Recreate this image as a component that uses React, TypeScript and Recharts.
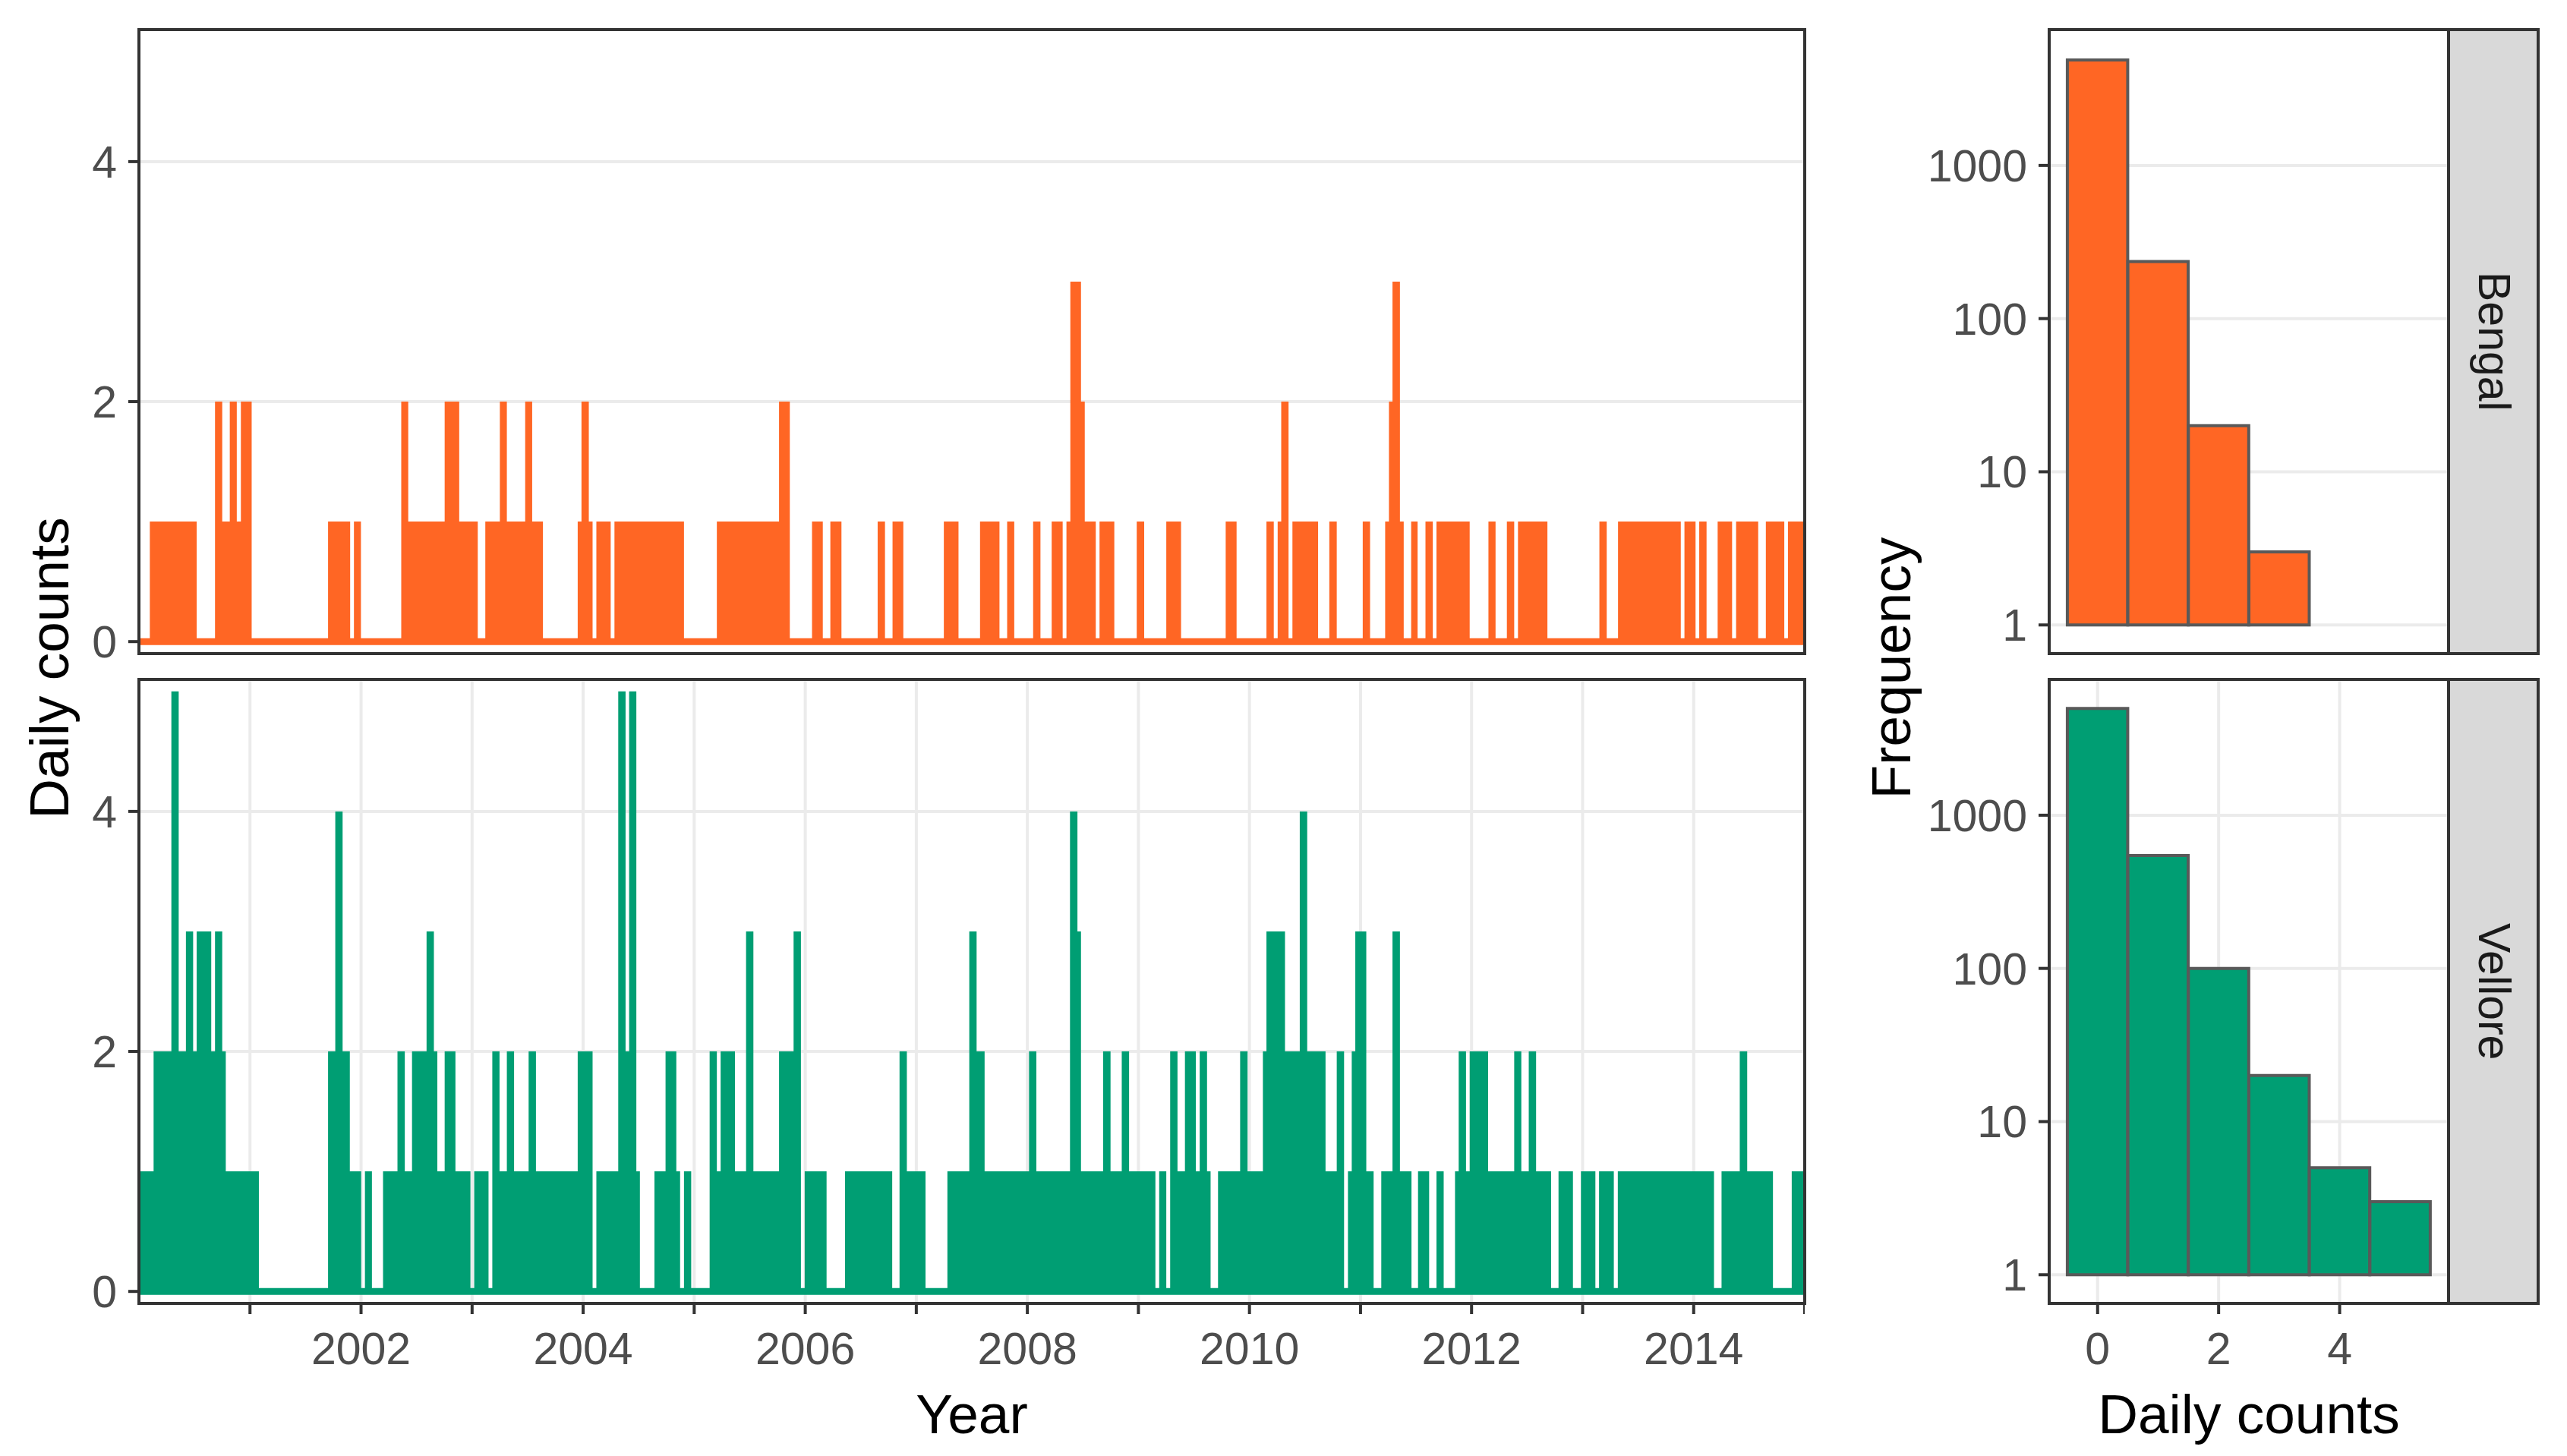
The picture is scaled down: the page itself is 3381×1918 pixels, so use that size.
import { ComposedChart, Area, BarChart, Bar, XAxis, YAxis, CartesianGrid, ReferenceLine } from "recharts";

const ORANGE = "#FF6624";
const GREEN = "#009E73";
const INK = "#333333";
const GRID = "#EBEBEB";
const TICK_TEXT = "#4D4D4D";
const FONT = "'Liberation Sans', Arial, Helvetica, sans-serif";

// x axis (years) and y axis ticks
const yearTicks = [2001, 2002, 2003, 2004, 2005, 2006, 2007, 2008, 2009, 2010, 2011, 2012, 2013, 2014, 2015];
const countTicks = [0, 2, 4];
const freqTicks = [1, 10, 100, 1000];
const histTicks = [0, 2, 4];

// daily counts as runs: [start (decimal year), count until the next start]
const bengalRuns: [number, number][] = [
  [2000.0, 0], [2000.098, 1], [2000.52, 0], [2000.685, 2], [2000.75, 1], [2000.818, 2], [2000.881, 1], [2000.918, 2],
  [2001.015, 0], [2001.703, 1], [2001.902, 0], [2001.936, 1], [2001.999, 0], [2002.362, 2], [2002.425, 1], [2002.753, 2],
  [2002.884, 1], [2003.051, 0], [2003.119, 1], [2003.25, 2], [2003.313, 1], [2003.478, 2], [2003.541, 1], [2003.638, 0],
  [2003.951, 1], [2003.985, 2], [2004.051, 1], [2004.085, 0], [2004.119, 1], [2004.248, 0], [2004.282, 1], [2004.908, 0],
  [2005.204, 1], [2005.764, 2], [2005.861, 0], [2006.061, 1], [2006.158, 0], [2006.226, 1], [2006.326, 0], [2006.652, 1],
  [2006.718, 0], [2006.786, 1], [2006.883, 0], [2007.248, 1], [2007.38, 0], [2007.574, 1], [2007.749, 0], [2007.818, 1],
  [2007.882, 0], [2008.052, 1], [2008.118, 0], [2008.219, 1], [2008.318, 0], [2008.352, 1], [2008.387, 3], [2008.483, 2],
  [2008.517, 1], [2008.616, 0], [2008.65, 1], [2008.783, 0], [2008.985, 1], [2009.052, 0], [2009.251, 1], [2009.384, 0],
  [2009.786, 1], [2009.884, 0], [2010.153, 1], [2010.219, 0], [2010.254, 1], [2010.286, 2], [2010.352, 0], [2010.387, 1],
  [2010.618, 0], [2010.719, 1], [2010.786, 0], [2011.02, 1], [2011.086, 0], [2011.222, 1], [2011.256, 2], [2011.288, 3],
  [2011.355, 1], [2011.389, 0], [2011.456, 1], [2011.514, 0], [2011.585, 1], [2011.651, 0], [2011.684, 1], [2011.983, 0],
  [2012.152, 1], [2012.216, 0], [2012.318, 1], [2012.384, 0], [2012.418, 1], [2012.683, 0], [2013.151, 1], [2013.217, 0],
  [2013.319, 1], [2013.884, 0], [2013.917, 1], [2014.017, 0], [2014.05, 1], [2014.116, 0], [2014.216, 1], [2014.346, 0],
  [2014.382, 1], [2014.581, 0], [2014.65, 1], [2014.816, 0], [2014.849, 1],
];

const velloreRuns: [number, number][] = [
  [2000.0, 1], [2000.132, 2], [2000.292, 5], [2000.358, 2], [2000.423, 3], [2000.488, 2], [2000.52, 3], [2000.651, 2],
  [2000.685, 3], [2000.75, 2], [2000.782, 1], [2001.08, 0], [2001.703, 2], [2001.768, 4], [2001.834, 2], [2001.899, 1],
  [2002.001, 0], [2002.035, 1], [2002.098, 0], [2002.198, 1], [2002.328, 2], [2002.394, 1], [2002.459, 2], [2002.59, 3],
  [2002.656, 2], [2002.687, 1], [2002.753, 2], [2002.85, 1], [2002.985, 0], [2003.019, 1], [2003.148, 0], [2003.182, 2],
  [2003.247, 1], [2003.313, 2], [2003.378, 1], [2003.509, 2], [2003.575, 1], [2003.951, 2], [2004.085, 0], [2004.119, 1],
  [2004.316, 5], [2004.382, 2], [2004.414, 5], [2004.479, 1], [2004.511, 0], [2004.642, 1], [2004.742, 2], [2004.839, 1],
  [2004.873, 0], [2004.908, 1], [2004.973, 0], [2005.139, 2], [2005.204, 1], [2005.238, 2], [2005.367, 1], [2005.467, 3],
  [2005.533, 1], [2005.764, 2], [2005.895, 3], [2005.961, 0], [2005.995, 1], [2006.192, 0], [2006.358, 1], [2006.783, 0],
  [2006.849, 2], [2006.915, 1], [2007.083, 0], [2007.28, 1], [2007.477, 3], [2007.543, 2], [2007.615, 1], [2008.015, 2],
  [2008.081, 1], [2008.384, 4], [2008.451, 3], [2008.483, 1], [2008.682, 2], [2008.749, 1], [2008.85, 2], [2008.916, 1],
  [2009.153, 0], [2009.187, 1], [2009.251, 0], [2009.286, 2], [2009.352, 1], [2009.419, 2], [2009.517, 1], [2009.552, 2],
  [2009.618, 1], [2009.65, 0], [2009.717, 1], [2009.916, 2], [2009.983, 1], [2010.121, 2], [2010.153, 3], [2010.32, 2],
  [2010.453, 4], [2010.52, 2], [2010.685, 1], [2010.786, 2], [2010.852, 0], [2010.887, 1], [2010.921, 2], [2010.953, 3],
  [2011.052, 1], [2011.118, 0], [2011.187, 1], [2011.288, 3], [2011.355, 1], [2011.459, 0], [2011.518, 1], [2011.618, 0],
  [2011.684, 1], [2011.749, 0], [2011.851, 1], [2011.884, 2], [2011.95, 1], [2011.983, 2], [2012.149, 1], [2012.384, 2],
  [2012.448, 1], [2012.515, 2], [2012.581, 1], [2012.716, 0], [2012.783, 1], [2012.913, 0], [2012.985, 1], [2013.115, 0],
  [2013.148, 1], [2013.281, 0], [2013.317, 1], [2014.183, 0], [2014.251, 1], [2014.415, 2], [2014.482, 1], [2014.714, 0],
  [2014.883, 1],
];

// histogram of daily counts (log10 frequency axis)
const histCounts = [0, 1, 2, 3, 4, 5];
const bengalFreq = [4880, 236, 20, 3];
const velloreFreq = [4980, 546, 100, 20, 5, 3];

// layout in px
const TS_X0 = 183;
const TS_X1 = 2377;
const H_LEFT = 2500;
const H_X0 = 2699;
const H_X1 = 3225;
const STRIP_X1 = 3343;
const ROW1 = 39;
const ROW2 = 895;
const PANEL_H = 822;
const AXIS_H = 130;
const SPARE_H = 40;

function toSteps(runs: [number, number][]) {
  const rows = runs.map(([t, v]) => ({ t, v }));
  rows.push({ t: 2015, v: runs[runs.length - 1][1] });
  return rows;
}

const tickText = { fontSize: 59, fill: TICK_TEXT, fontFamily: FONT };
const tickStroke = { stroke: INK, strokeWidth: 4 };

function Frame({ left, width }: { left: number; width: number }) {
  return (
    <div
      style={{
        position: "absolute",
        left: left - 2,
        top: -2,
        width: width + 4,
        height: PANEL_H + 4,
        border: `4px solid ${INK}`,
        boxSizing: "border-box",
        pointerEvents: "none",
      }}
    />
  );
}

function SeriesPanel({ runs, color, top, withAxis }: { runs: [number, number][]; color: string; top: number; withAxis: boolean }) {
  const data = toSteps(runs);
  const axisH = withAxis ? AXIS_H : SPARE_H;
  return (
    <div style={{ position: "absolute", left: 0, top }}>
      <ComposedChart width={TS_X1} height={PANEL_H + axisH} data={data} margin={{ top: 0, right: 0, bottom: 0, left: 0 }}>
        <CartesianGrid stroke={GRID} strokeWidth={4} />
        <XAxis
          type="number"
          dataKey="t"
          domain={[2000, 2015]}
          ticks={yearTicks}
          interval={0}
          allowDataOverflow
          height={axisH}
          axisLine={false}
          tickLine={withAxis ? tickStroke : false}
          tickSize={14}
          tickMargin={24}
          tick={withAxis ? tickText : false}
          tickFormatter={(y: number) => (y % 2 === 0 ? String(y) : "")}
        />
        <YAxis
          type="number"
          domain={[-0.1, 5.1]}
          ticks={countTicks}
          interval={0}
          allowDataOverflow
          width={TS_X0}
          axisLine={false}
          tickLine={tickStroke}
          tickSize={14}
          tickMargin={15}
          tick={tickText}
        />
        <Area
          type="stepAfter"
          dataKey="v"
          stroke="none"
          fill={color}
          fillOpacity={1}
          dot={false}
          activeDot={false}
          isAnimationActive={false}
        />
        <ReferenceLine y={0} stroke={color} strokeWidth={9} />
      </ComposedChart>
      <Frame left={TS_X0} width={TS_X1 - TS_X0} />
    </div>
  );
}

function HistPanel({ freq, color, top, withAxis, strip }: { freq: number[]; color: string; top: number; withAxis: boolean; strip: string }) {
  const data = freq.map((f, i) => ({ c: histCounts[i], f }));
  const axisH = withAxis ? AXIS_H : SPARE_H;
  return (
    <div style={{ position: "absolute", left: H_LEFT, top }}>
      <BarChart width={H_X1 - H_LEFT} height={PANEL_H + axisH} data={data} margin={{ top: 0, right: 0, bottom: 0, left: 0 }}>
        <CartesianGrid stroke={GRID} strokeWidth={4} />
        <XAxis
          type="number"
          dataKey="c"
          domain={[-0.8, 5.8]}
          ticks={histTicks}
          interval={0}
          allowDataOverflow
          height={axisH}
          axisLine={false}
          tickLine={withAxis ? tickStroke : false}
          tickSize={14}
          tickMargin={24}
          tick={withAxis ? tickText : false}
        />
        <YAxis
          type="number"
          scale="log"
          domain={[0.65, 7700]}
          ticks={freqTicks}
          interval={0}
          allowDataOverflow
          width={H_X0 - H_LEFT}
          axisLine={false}
          tickLine={tickStroke}
          tickSize={14}
          tickMargin={15}
          tick={tickText}
        />
        <Bar
          dataKey={(d: { f: number }) => [1, d.f]}
          fill={color}
          stroke="#595959"
          strokeWidth={4}
          barSize={79.5}
          isAnimationActive={false}
        />
      </BarChart>
      <Frame left={H_X0 - H_LEFT} width={H_X1 - H_X0} />
      <div
        style={{
          position: "absolute",
          left: H_X1 - H_LEFT - 2,
          top: -2,
          width: STRIP_X1 - H_X1 + 4,
          height: PANEL_H + 4,
          background: "#D9D9D9",
          border: `4px solid ${INK}`,
          boxSizing: "border-box",
          display: "flex",
          alignItems: "center",
          justifyContent: "center",
        }}
      >
        <span style={{ writingMode: "vertical-rl", fontSize: 59, color: "#1A1A1A", lineHeight: 1 }}>{strip}</span>
      </div>
    </div>
  );
}

function Title({ text, x, y, rotate }: { text: string; x: number; y: number; rotate?: boolean }) {
  return (
    <div
      style={{
        position: "absolute",
        left: x,
        top: y,
        fontSize: 73,
        lineHeight: 1,
        color: "#000000",
        whiteSpace: "nowrap",
        transform: rotate ? "translate(-50%, -50%) rotate(-90deg)" : "translateX(-50%)",
      }}
    >
      {text}
    </div>
  );
}

export default function App() {
  return (
    <div
      style={{
        position: "absolute",
        left: 0,
        top: 0,
        width: 3381,
        height: 1918,
        background: "#FFFFFF",
        overflow: "hidden",
        fontFamily: FONT,
      }}
    >
      <SeriesPanel runs={bengalRuns} color={ORANGE} top={ROW1} withAxis={false} />
      <SeriesPanel runs={velloreRuns} color={GREEN} top={ROW2} withAxis />
      <HistPanel freq={bengalFreq} color={ORANGE} top={ROW1} withAxis={false} strip="Bengal" />
      <HistPanel freq={velloreFreq} color={GREEN} top={ROW2} withAxis strip="Vellore" />
      <Title text="Daily counts" x={64} y={880} rotate />
      <Title text="Frequency" x={2490} y={880} rotate />
      <Title text="Year" x={(TS_X0 + TS_X1) / 2} y={1826} />
      <Title text="Daily counts" x={(H_X0 + H_X1) / 2} y={1826} />
    </div>
  );
}
